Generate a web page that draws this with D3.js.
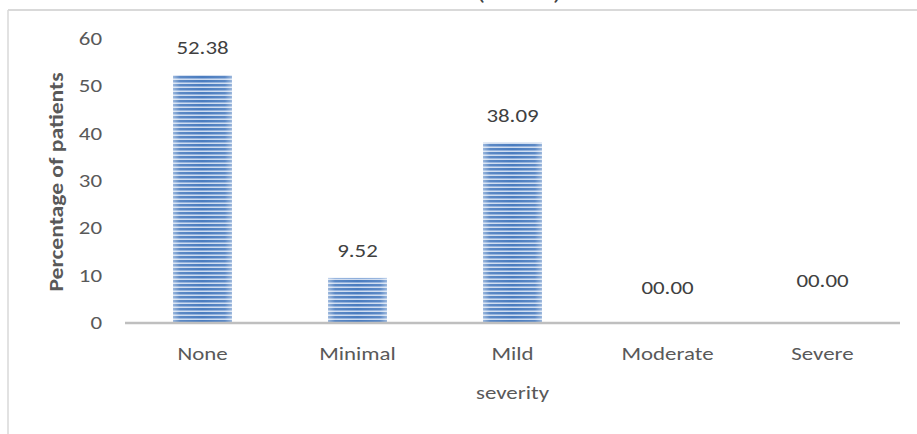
<!DOCTYPE html>
<html>
<head>
<meta charset="utf-8">
<script src="https://cdn.jsdelivr.net/npm/d3@7/dist/d3.min.js"></script>
<style>
  html, body { margin: 0; padding: 0; background: #fff; }
  svg { display: block; }
  text { font-family: Carlito, Lato, "Open Sans", sans-serif; }
</style>
</head>
<body>
<svg id="chart" width="917" height="434"></svg>
<script>
// Share of patients in each severity grade
const categories = ["None", "Minimal", "Mild", "Moderate", "Severe"];
const percentages = [52.38, 9.52, 38.09, 0, 0];
const valueLabels = ["52.38", "9.52", "38.09", "00.00", "00.00"];
const yTicks = [0, 10, 20, 30, 40, 50, 60];
const yTitle = "Percentage of patients";
const xTitle = "severity";
const chartTitle = "(n = 21)";

const FONT = "Carlito, Lato, 'Open Sans', sans-serif";
const FS = 17.6;      // label font size
const WIDE = 1.3;     // horizontal stretch of the lettering

const svg = d3.select("#chart");

// stripe fill for the bars
const defs = svg.append("defs");
const pat = defs.append("pattern")
  .attr("id", "stripes")
  .attr("patternUnits", "userSpaceOnUse")
  .attr("width", 8).attr("height", 4);
pat.append("rect").attr("width", 8).attr("height", 4).attr("fill", "#cddbef");
pat.append("rect").attr("y", 0).attr("width", 8).attr("height", 2).attr("fill", "#4a7cbf");
pat.append("rect").attr("y", 2).attr("width", 8).attr("height", 1).attr("fill", "#8eaedb");

const edge = defs.append("linearGradient").attr("id", "edgeGlow")
  .attr("x1", "0").attr("x2", "1").attr("y1", "0").attr("y2", "0");
[[0, 0.45], [0.12, 0.1], [0.5, 0], [0.88, 0.1], [1, 0.45]].forEach(([o, a]) =>
  edge.append("stop").attr("offset", o).attr("stop-color", "#fff").attr("stop-opacity", a));

// chart frame
svg.append("line").attr("x1", 8).attr("x2", 917).attr("y1", 10).attr("y2", 10)
  .attr("stroke", "#d9d9d9").attr("stroke-width", 2);
svg.append("line").attr("x1", 8).attr("x2", 8).attr("y1", 10).attr("y2", 434)
  .attr("stroke", "#d9d9d9").attr("stroke-width", 1.5);

// title sits mostly above the visible area
svg.append("text")
  .attr("transform", `translate(519,0) scale(${WIDE},1)`)
  .attr("text-anchor", "middle").attr("font-size", 21).attr("fill", "#404040")
  .text(chartTitle);

const x = d3.scaleBand().domain(categories).range([125, 900])
  .paddingInner(0.62).paddingOuter(0.31);
const y = d3.scaleLinear().domain([0, 60]).range([323, 39]);

// bars
const bars = svg.append("g");
bars.selectAll("rect.bar").data(percentages).join("rect")
  .attr("class", "bar")
  .attr("x", (d, i) => x(categories[i]))
  .attr("width", x.bandwidth())
  .attr("y", d => y(d))
  .attr("height", d => y(0) - y(d))
  .attr("fill", "url(#stripes)");
bars.selectAll("rect.glow").data(percentages).join("rect")
  .attr("class", "glow")
  .attr("x", (d, i) => x(categories[i]))
  .attr("width", x.bandwidth())
  .attr("y", d => y(d))
  .attr("height", d => y(0) - y(d))
  .attr("fill", "url(#edgeGlow)");

// y axis labels (no axis line)
const yAxis = svg.append("g").attr("transform", "translate(102,0)")
  .call(d3.axisLeft(y).tickValues(yTicks).tickSize(0).tickPadding(0));
yAxis.select(".domain").remove();
yAxis.selectAll("text").attr("font-size", FS).attr("fill", "#595959")
  .attr("font-family", FONT).attr("transform", `scale(${WIDE},1)`);

// category axis
const xAxis = svg.append("g").attr("transform", `translate(0,${y(0)})`)
  .call(d3.axisBottom(x).tickSize(0).tickPadding(25));
xAxis.select(".domain").attr("stroke", "#bfbfbf").attr("stroke-width", 2.5)
  .attr("d", "M125,0H900");
xAxis.selectAll("text").attr("font-size", FS).attr("fill", "#595959")
  .attr("font-family", FONT).attr("transform", `scale(${WIDE},1)`);

// value labels; the zero labels were nudged by hand
const labelNudge = [0, 0, 0, -8, -15];
svg.append("g").selectAll("text").data(percentages).join("text")
  .attr("transform", (d, i) =>
    `translate(${x(categories[i]) + x.bandwidth() / 2},${y(d) - 21 + labelNudge[i]}) scale(${WIDE},1)`)
  .attr("text-anchor", "middle")
  .attr("font-size", FS).attr("fill", "#404040")
  .text((d, i) => valueLabels[i]);

// axis titles
svg.append("text")
  .attr("transform", `translate(63,${(y(0) + y(60)) / 2 + 1}) rotate(-90) scale(1.21,1)`)
  .attr("text-anchor", "middle").attr("font-size", 19.5).attr("font-weight", "bold")
  .attr("fill", "#595959").text(yTitle);
svg.append("text")
  .attr("transform", `translate(512.5,399) scale(${WIDE},1)`)
  .attr("text-anchor", "middle").attr("font-size", FS).attr("fill", "#595959")
  .text(xTitle);
</script>
</body>
</html>
